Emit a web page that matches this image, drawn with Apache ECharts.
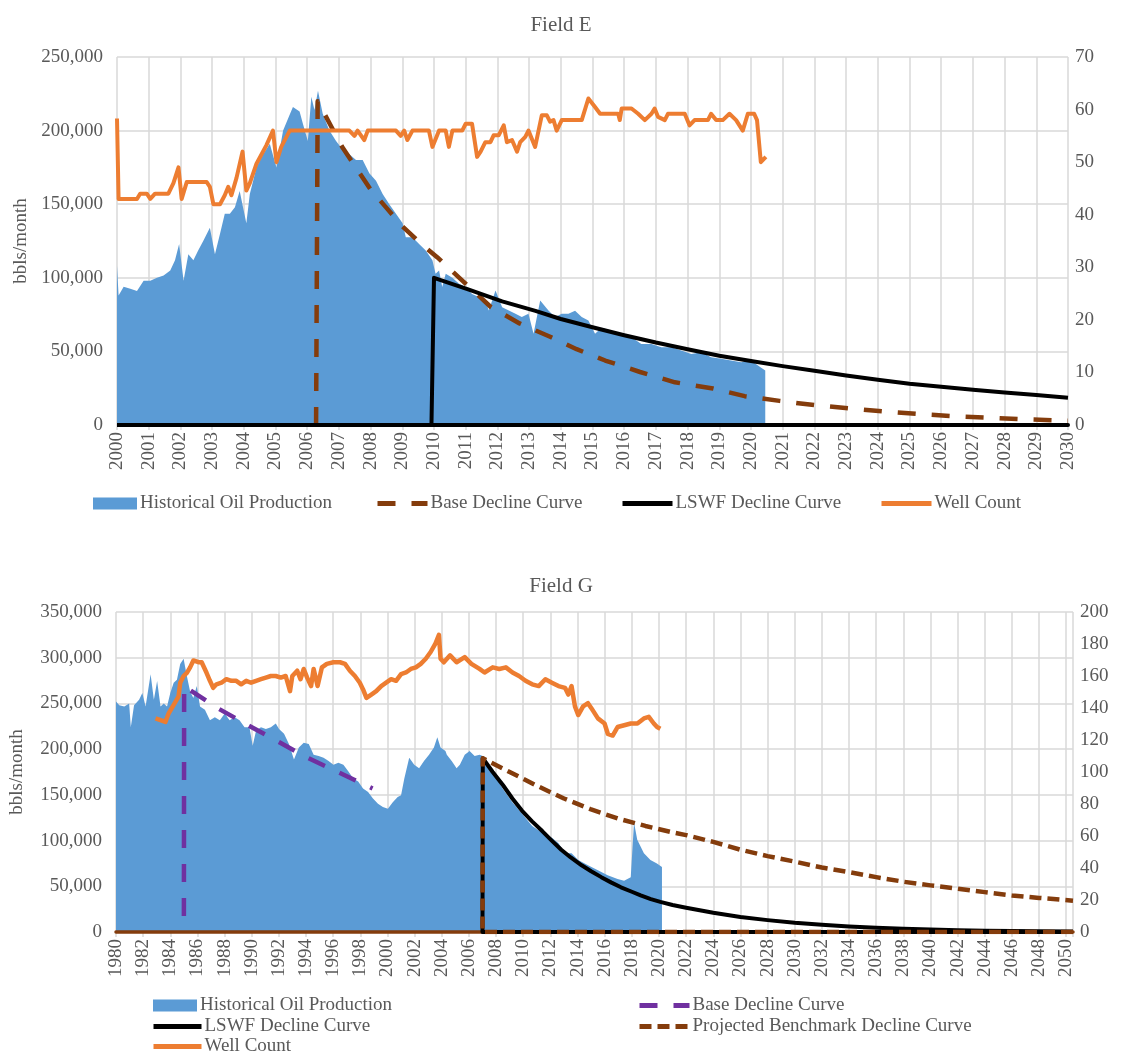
<!DOCTYPE html>
<html>
<head>
<meta charset="utf-8">
<title>Field E and Field G oil production</title>
<script src="https://cdn.jsdelivr.net/npm/echarts@6/dist/echarts.min.js"></script>
<style>
  html, body { margin: 0; padding: 0; background: #ffffff; }
  #chart { width: 1122px; height: 1056px; }
</style>
</head>
<body>
<div id="chart"></div>
<script>
// ---------- Field E (monthly decimal year, bbls/month) ----------
const eHistory = [
  [2000.00,108000],[2000.05,88000],[2000.21,94000],[2000.42,92500],[2000.63,91000],[2000.84,98000],
  [2001.05,98000],[2001.26,100000],[2001.47,101500],[2001.68,105000],[2001.83,112000],[2001.96,123000],
  [2002.10,98000],[2002.25,116000],[2002.41,112000],[2002.56,118500],[2002.72,125000],[2002.93,134000],
  [2003.09,116000],[2003.25,130000],[2003.40,143500],[2003.56,143500],[2003.72,148000],[2003.87,159000],
  [2004.08,137000],[2004.19,157000],[2004.40,175000],[2004.61,184000],[2004.82,191000],[2005.03,175000],
  [2005.24,200000],[2005.45,211000],[2005.55,216000],[2005.76,213000],[2005.86,205000],[2006.02,193000],
  [2006.13,223000],[2006.23,214000],[2006.34,227000],[2006.49,211500],[2006.70,200000],[2006.91,193000],
  [2007.12,187000],[2007.33,184000],[2007.54,180000],[2007.75,180000],[2007.96,171000],[2008.17,166000],
  [2008.38,157000],[2008.59,150000],[2008.80,143500],[2009.01,137000],[2009.11,127500],[2009.32,127500],
  [2009.53,123000],[2009.74,118500],[2009.95,112000],[2010.05,102700],[2010.16,105000],[2010.26,93700],
  [2010.37,102700],[2010.58,100000],[2010.79,96000],[2011.00,93700],[2011.20,89000],[2011.41,86900],
  [2011.62,84600],[2011.73,77800],[2011.94,91400],[2012.15,80000],[2012.36,77800],[2012.57,75500],
  [2012.77,73300],[2012.98,75500],[2013.14,62000],[2013.35,84600],[2013.61,77800],[2013.82,73300],
  [2014.03,75500],[2014.24,75500],[2014.45,77700],[2014.66,73300],[2014.87,71000],[2015.08,62000],
  [2015.29,66000],[2015.60,64000],[2015.92,62000],[2016.23,59600],[2016.54,55000],[2016.86,55000],
  [2017.17,52800],[2017.49,52800],[2017.80,50600],[2018.12,48300],[2018.43,49400],[2018.74,46000],
  [2019.06,45000],[2019.37,43800],[2019.69,42600],[2020.00,43800],[2020.31,39000],[2020.45,37000]
];
const eBaseDecline = [
  [2006.28,0],[2006.33,220000],[2007.10,189000],[2008.00,160000],[2008.48,148000],[2009.00,135000],
  [2009.60,123000],[2010.10,114000],[2010.80,100000],[2011.80,80000],[2012.70,69000],[2013.70,59600],
  [2014.50,51500],[2015.40,43800],[2016.50,36000],[2017.60,29000],[2018.80,24800],[2019.80,19600],
  [2020.90,16400],[2022.00,13500],[2023.10,11300],[2024.30,9000],[2025.30,7400],[2026.40,6000],
  [2027.50,5000],[2028.70,3800],[2030.00,2900]
];
// zero baseline first, then the step up at the start of waterflood and the forecast
const eLswfDecline = [
  [2000,0],[2030,0],[2009.92,0],[2010.00,100000],[2011.10,92000],[2012.15,84000],[2013.20,77500],
  [2014.00,72000],[2015.00,66400],[2016.00,61000],[2017.00,56000],[2018.00,51500],[2019.00,47000],
  [2020.00,43500],[2021.00,40000],[2022.00,36800],[2023.00,33600],[2024.00,30800],[2025.00,28000],
  [2026.00,26000],[2027.00,24000],[2028.00,22000],[2029.00,20300],[2030.00,18500]
];
const eWellCount = [
  [2000.00,58.3],[2000.05,43],[2000.63,43],[2000.73,44],[2000.94,44],[2001.05,43],[2001.20,44],
  [2001.62,44],[2001.78,46],[2001.94,49],[2002.04,43],[2002.20,46.2],[2002.83,46.2],[2002.93,45.3],
  [2003.04,42],[2003.25,42],[2003.40,43.7],[2003.51,45.3],[2003.61,43.7],[2003.77,47],[2003.96,52],
  [2004.08,44.6],[2004.19,46],[2004.40,49.7],[2004.71,53.2],[2004.92,56],[2005.03,50],[2005.18,52.9],
  [2005.45,56],[2007.33,56],[2007.49,55],[2007.59,56],[2007.80,54.2],[2007.91,56],[2008.80,56],
  [2008.95,55],[2009.06,56],[2009.16,54.2],[2009.32,56],[2009.84,56],[2009.95,52.9],[2010.16,56],
  [2010.37,56],[2010.47,52.9],[2010.58,56],[2010.89,56],[2011.00,57.3],[2011.20,57.3],[2011.36,51],
  [2011.47,52],[2011.62,53.8],[2011.78,53.8],[2011.88,55.1],[2012.04,55.1],[2012.20,57],[2012.30,53.8],
  [2012.46,54.2],[2012.62,52],[2012.72,53.8],[2012.88,54.8],[2012.98,56],[2013.19,52.9],[2013.40,58.9],
  [2013.56,58.9],[2013.66,57.7],[2013.77,58],[2013.87,56],[2014.03,58],[2014.66,58],[2014.87,62.1],
  [2015.08,60.5],[2015.24,59.2],[2015.34,59.2],[2015.81,59.2],[2015.86,58],[2015.92,60.2],[2016.23,60.2],
  [2016.44,59.2],[2016.65,58],[2016.86,59.2],[2016.96,60.2],[2017.07,58.6],[2017.28,58],[2017.38,59.2],
  [2017.91,59.2],[2018.06,57],[2018.22,58],[2018.64,58],[2018.74,59.2],[2018.90,58],[2019.11,58],
  [2019.32,59.2],[2019.53,58],[2019.74,56],[2019.90,59.2],[2020.10,59.2],[2020.19,58],[2020.31,50],
  [2020.47,51]
];

// ---------- Field G ----------
const gHistory = [
  [1980.00,252000],[1980.24,248000],[1980.61,246600],[1980.97,250000],[1981.09,224000],[1981.33,248000],
  [1981.70,254000],[1981.94,261500],[1982.18,246600],[1982.55,282000],[1982.79,254000],[1983.03,274600],
  [1983.28,246600],[1983.52,250000],[1983.76,246600],[1984.00,261500],[1984.25,272700],[1984.49,276000],
  [1984.73,293000],[1984.98,299000],[1985.22,280000],[1985.46,263000],[1985.70,256000],[1985.95,269000],
  [1986.19,246600],[1986.55,243000],[1986.92,231700],[1987.28,235000],[1987.65,231700],[1988.01,239000],
  [1988.37,231700],[1988.74,235000],[1989.10,231700],[1989.47,224000],[1989.83,224000],[1990.07,203700],
  [1990.32,220500],[1990.68,224000],[1991.04,222000],[1991.41,224000],[1991.77,228000],[1992.01,222000],
  [1992.38,216800],[1992.74,205600],[1993.11,188800],[1993.47,201800],[1993.83,207000],[1994.20,205600],
  [1994.56,194000],[1994.93,192500],[1995.29,190600],[1995.66,187000],[1996.02,183000],[1996.38,185000],
  [1996.75,183000],[1997.11,175700],[1997.48,168000],[1997.84,164500],[1998.20,157000],[1998.57,153000],
  [1998.93,145900],[1999.30,140300],[1999.66,136600],[2000.03,134700],[2000.39,142000],[2000.75,147700],
  [2001.00,149600],[2001.24,168000],[2001.60,190600],[2001.97,183000],[2002.33,179000],[2002.69,187000],
  [2003.06,194000],[2003.42,201800],[2003.67,213000],[2003.91,201800],[2004.27,198000],[2004.37,194000],
  [2004.73,187000],[2005.09,179000],[2005.33,183000],[2005.69,194000],[2006.05,198000],[2006.42,192500],
  [2006.78,194000],[2007.02,192500],[2007.14,188800],[2007.75,175700],[2008.48,157000],[2009.20,142000],
  [2009.93,129000],[2010.66,116000],[2011.39,108600],[2012.11,103000],[2012.60,97000],[2013.08,86000],
  [2013.56,86000],[2014.05,78700],[2014.77,73000],[2015.50,67500],[2016.22,62000],[2016.95,58000],
  [2017.43,56000],[2017.92,60000],[2018.16,119800],[2018.40,101000],[2018.89,86000],[2019.37,78700],
  [2019.85,75000],[2020.22,71000]
];
const gBaseDecline = [
  [1985.00,0],[1985.02,269000],[1985.20,267000],[1987.50,244700],[1990.00,224000],[1992.10,207000],
  [1994.10,190600],[1996.50,173900],[1998.90,157000]
];
// zero baseline from the end of the axis back to 2007, then the step and the forecast
const gLswfDecline = [
  [2050.5,0],[2007.00,0],[2007.02,190000],[2007.75,175000],[2008.50,160800],[2009.20,146000],
  [2009.90,132800],[2010.65,121000],[2011.40,110400],[2012.10,100000],[2012.80,90000],[2013.50,81500],
  [2014.30,73000],[2015.00,66500],[2015.75,60000],[2016.50,54000],[2017.20,48900],[2018.00,44000],
  [2018.65,40000],[2019.40,36000],[2020.10,33000],[2021.00,29500],[2022.00,26500],[2024.00,21000],
  [2026.00,16500],[2028.00,13000],[2030.00,10000],[2032.00,7800],[2034.00,6000],[2036.00,4600],
  [2038.00,3500],[2040.00,2700],[2042.00,2000],[2044.00,1500],[2046.00,1100],[2048.00,800],[2050.50,500]
];
const gBenchmarkDecline = [
  [2050.5,0],[2007.00,0],[2007.02,190000],[2009.00,175000],[2011.00,160000],[2013.00,146000],
  [2015.00,134000],[2017.00,124000],[2019.00,116000],[2021.00,109000],[2022.00,106000],[2024.00,98500],
  [2026.00,90000],[2028.00,83000],[2030.00,77000],[2032.00,70500],[2034.00,65500],[2036.00,60000],
  [2038.00,55000],[2040.00,51000],[2042.00,47400],[2044.00,43600],[2046.00,40000],[2048.00,37300],
  [2050.50,34300]
];
const gWellCount = [
  [1982.91,133.5],[1983.28,132.4],[1983.64,131.3],[1983.88,136.7],[1984.25,142],[1984.61,147.3],
  [1984.73,155.8],[1984.98,160],[1985.22,162],[1985.46,165.4],[1985.70,169.7],[1986.07,168.6],
  [1986.31,168.6],[1986.67,162],[1986.92,157],[1987.16,152.6],[1987.40,154.8],[1987.77,155.8],
  [1988.13,158],[1988.50,157],[1988.86,157],[1989.22,154.8],[1989.59,157],[1989.95,155.8],
  [1990.32,157],[1990.68,158],[1991.04,159],[1991.41,160],[1991.77,160],[1992.14,159],[1992.50,160],
  [1992.82,150.5],[1992.99,160],[1993.35,163.3],[1993.59,158],[1993.83,164.4],[1994.08,159],
  [1994.37,153.7],[1994.56,164.4],[1994.85,153.7],[1995.17,165.4],[1995.53,167.6],[1996.02,168.6],
  [1996.50,168.6],[1996.87,167.6],[1997.23,163.3],[1997.60,160],[1997.96,155.8],[1998.20,151.6],
  [1998.45,146.3],[1998.81,148.4],[1999.17,150.5],[1999.54,153.7],[1999.90,155.8],[2000.27,158],
  [2000.63,157],[2001.00,161.2],[2001.36,162.2],[2001.72,164.4],[2002.09,165.4],[2002.45,167.6],
  [2002.82,170.8],[2003.18,175],[2003.54,180.4],[2003.79,185.7],[2003.91,170.8],[2004.15,168.6],
  [2004.61,172.9],[2005.09,168.6],[2005.69,171.8],[2006.18,167.6],[2006.78,164.4],[2007.15,162.2],
  [2007.75,165.4],[2008.24,164.4],[2008.72,165.4],[2009.21,162.2],[2009.69,160],[2010.17,157],
  [2010.66,154.8],[2011.14,153.7],[2011.63,158],[2012.11,155.8],[2012.60,153.7],[2013.08,152.6],
  [2013.32,148.4],[2013.56,153.7],[2013.81,141],[2014.05,135.6],[2014.41,141],[2014.77,143],
  [2015.02,139.9],[2015.50,133.5],[2015.99,130.3],[2016.23,123.9],[2016.59,122.8],[2016.95,128.1],
  [2017.44,129.2],[2017.92,130.3],[2018.41,130.3],[2018.89,133.5],[2019.25,134.5],[2019.62,130.3],
  [2019.86,128.1],[2020.10,127]
];

// ---------- styling ----------
const FONT = 'Liberation Serif';
const TEXT = '#595959';
const GRID_LINE = '#D9D9D9';
const BLUE = '#5B9BD5';
const ORANGE = '#ED7D31';
const BROWN = '#843C0C';
const PURPLE = '#7030A0';
const BLACK = '#000000';
const FS = 19;

const chart = echarts.init(document.getElementById('chart'), null, { renderer: 'canvas' });

const thousands = v => v.toLocaleString('en-US');
const labelStyle = { fontFamily: FONT, fontSize: FS, color: TEXT };

function yearAxis(gridIndex, min, max, step, fmt) {
  return {
    type: 'value', gridIndex, min, max, interval: step,
    axisLine: { show: true, lineStyle: { color: GRID_LINE, width: 1.5 } },
    axisTick: { show: true, length: 5, lineStyle: { color: GRID_LINE, width: 1.5 } },
    axisLabel: Object.assign({ rotate: 90, margin: 7, formatter: fmt, showMaxLabel: true }, labelStyle),
    splitLine: { show: true, lineStyle: { color: GRID_LINE, width: 1.5 } }
  };
}
function leftAxis(gridIndex, max, step, gap) {
  return {
    type: 'value', gridIndex, min: 0, max, interval: step, position: 'left',
    name: 'bbls/month', nameLocation: 'middle', nameGap: gap,
    nameTextStyle: { fontFamily: FONT, fontSize: FS, color: TEXT },
    axisLine: { show: false }, axisTick: { show: false },
    axisLabel: Object.assign({ margin: 14, formatter: thousands }, labelStyle),
    splitLine: { show: true, lineStyle: { color: GRID_LINE, width: 1.5 } }
  };
}
function rightAxis(gridIndex, max, step) {
  return {
    type: 'value', gridIndex, min: 0, max, interval: step, position: 'right',
    axisLine: { show: false }, axisTick: { show: false },
    axisLabel: Object.assign({ margin: 7 }, labelStyle),
    splitLine: { show: false }
  };
}
function lineSeries(name, data, xi, yi, color, width, dash, extraLine) {
  return {
    name, type: 'line', data, xAxisIndex: xi, yAxisIndex: yi,
    symbol: 'none', showSymbol: false, smooth: false,
    itemStyle: { color },
    lineStyle: Object.assign({ color, width, type: dash || 'solid', cap: 'butt', join: 'round' }, extraLine || {}),
    emphasis: { disabled: true }
  };
}
function areaSeries(name, data, xi, yi) {
  return {
    name, type: 'line', data, xAxisIndex: xi, yAxisIndex: yi, z: 1,
    symbol: 'none', showSymbol: false,
    itemStyle: { color: BLUE },
    lineStyle: { width: 0, color: BLUE },
    areaStyle: { color: BLUE, opacity: 1 },
    emphasis: { disabled: true }
  };
}
// one legend per entry so each sits where it belongs; line icons show only the line
function legendAt(name, left, top, isArea, w, h) {
  const legend = {
    data: [isArea ? { name, icon: 'rect' } : { name }],
    left, top, padding: 0, selectedMode: false,
    itemWidth: w, itemHeight: h,
    formatter: n => n.replace(' (G)', ''),
    textStyle: { fontFamily: FONT, fontSize: FS, color: TEXT, padding: [0, 0, 0, -2] }
  };
  if (!isArea) {
    legend.itemStyle = { opacity: 0 };
    legend.lineStyle = { width: 5, dashOffset: 0 };
  }
  return legend;
}

const option = {
  animation: false,
  backgroundColor: '#ffffff',
  title: [
    { text: 'Field E', left: 'center', top: 10, textStyle: { fontFamily: FONT, fontSize: 21, fontWeight: 'normal', color: TEXT } },
    { text: 'Field G', left: 'center', top: 571, textStyle: { fontFamily: FONT, fontSize: 21, fontWeight: 'normal', color: TEXT } }
  ],
  grid: [
    { left: 117, right: 54, top: 57, height: 368 },
    { left: 107, right: 49, top: 612, height: 320 }
  ],
  xAxis: [
    yearAxis(0, 2000, 2030, 1, v => String(v)),
    yearAxis(1, 1980, 2050.5, 2, v => (Number.isInteger(v) && v % 2 === 0 ? String(v) : '')),
    // brown zero line under the Field G curves
    {
      type: 'value', gridIndex: 1, min: 1980, max: 2050.5, z: 1.5,
      axisLine: { show: true, lineStyle: { color: BROWN, width: 3.5 } },
      axisTick: { show: false }, axisLabel: { show: false }, splitLine: { show: false }
    }
  ],
  yAxis: [
    leftAxis(0, 250000, 50000, 85),
    rightAxis(0, 70, 10),
    leftAxis(1, 350000, 50000, 89),
    rightAxis(1, 200, 20)
  ],
  legend: [
    legendAt('Historical Oil Production', 93, 494, true, 44, 12),
    legendAt('Base Decline Curve', 375, 494, false, 50, 14),
    legendAt('LSWF Decline Curve', 620, 494, false, 50, 14),
    legendAt('Well Count', 879, 494, false, 50, 14),
    legendAt('Historical Oil Production (G)', 153, 996, true, 44, 12),
    legendAt('Base Decline Curve (G)', 637, 996, false, 50, 14),
    legendAt('LSWF Decline Curve (G)', 151, 1017, false, 48, 14),
    legendAt('Projected Benchmark Decline Curve (G)', 637, 1017, false, 50, 14),
    legendAt('Well Count (G)', 151, 1037, false, 48, 14)
  ],
  series: [
    areaSeries('Historical Oil Production', eHistory, 0, 0),
    lineSeries('Base Decline Curve', eBaseDecline, 0, 0, BROWN, 4.5, [18, 16]),
    lineSeries('LSWF Decline Curve', eLswfDecline, 0, 0, BLACK, 4),
    lineSeries('Well Count', eWellCount, 0, 1, ORANGE, 4),

    areaSeries('Historical Oil Production (G)', gHistory, 1, 2),
    lineSeries('Base Decline Curve (G)', gBaseDecline, 1, 2, PURPLE, 4.5, [18, 16], { dashOffset: 18 }),
    lineSeries('LSWF Decline Curve (G)', gLswfDecline, 1, 2, BLACK, 4),
    lineSeries('Projected Benchmark Decline Curve (G)', gBenchmarkDecline, 1, 2, BROWN, 4.5, [12, 6]),
    lineSeries('Well Count (G)', gWellCount, 1, 3, ORANGE, 4.5)
  ]
};

chart.setOption(option);
</script>
</body>
</html>
